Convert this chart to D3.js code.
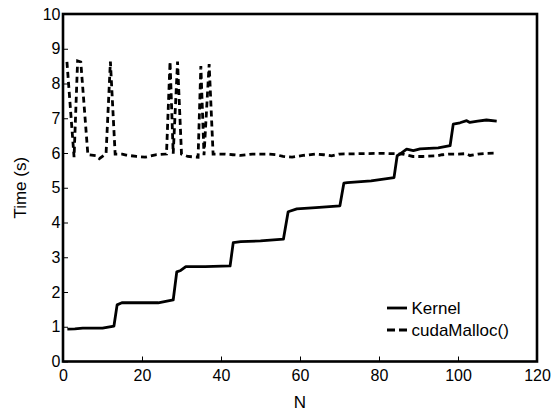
<!DOCTYPE html>
<html><head><meta charset="utf-8">
<script src="https://cdn.jsdelivr.net/npm/d3@7"></script>
<style>body{margin:0;background:#fff}svg{display:block}text{font-family:"Liberation Sans",Arial,sans-serif;fill:#000}</style>
</head><body><svg id="c" width="557" height="412"></svg>
<script>
const kernelN = [1.1, 3, 5, 10, 12.9, 13.7, 14.9, 20, 24.1, 26, 27.9, 28.8, 29.8, 31.1, 36, 42.3, 43.1, 45, 50, 55.8, 57.0, 59.2, 64, 70.1, 71.1, 72, 78, 83.8, 84.6, 85.3, 87.0, 88.7, 90.4, 95, 98.0, 98.8, 100.5, 102.2, 103, 105, 107.2, 109.8];
const kernelTime = [0.93, 0.94, 0.96, 0.96, 1.02, 1.63, 1.69, 1.69, 1.69, 1.73, 1.77, 2.58, 2.62, 2.73, 2.73, 2.75, 3.42, 3.45, 3.47, 3.52, 4.31, 4.39, 4.43, 4.48, 5.13, 5.15, 5.2, 5.29, 5.92, 5.97, 6.11, 6.07, 6.12, 6.15, 6.21, 6.83, 6.87, 6.93, 6.88, 6.92, 6.95, 6.92];
const mallocN = [1.0, 2.8, 3.7, 4.5, 6.3, 8.5, 9.2, 10.9, 12.0, 13.2, 15, 16, 18.6, 20.8, 23.7, 26.2, 27.1, 27.9, 29.0, 30.0, 31.6, 34.2, 34.9, 35.7, 37.0, 38.0, 41, 43, 45, 48, 52, 54, 55.7, 58, 60.8, 64, 66, 68, 70, 75, 80, 84, 86, 88.6, 91, 94.7, 96, 98, 100, 102, 103, 105, 107, 109.8];
const mallocTime = [8.62, 5.88, 8.65, 8.62, 5.95, 5.92, 5.84, 5.98, 8.63, 5.97, 5.97, 5.94, 5.9, 5.88, 5.95, 5.97, 8.63, 5.98, 8.63, 5.97, 5.9, 5.88, 8.5, 5.94, 8.56, 5.97, 5.97, 5.95, 5.93, 5.97, 5.97, 5.95, 5.9, 5.88, 5.93, 5.97, 5.95, 5.92, 5.97, 5.98, 5.99, 5.98, 5.97, 5.9, 5.9, 5.92, 5.95, 5.97, 5.97, 5.98, 5.93, 5.97, 5.99, 6.0];
const xTicks = [0, 20, 40, 60, 80, 100, 120];
const yTicks = [0, 1, 2, 3, 4, 5, 6, 7, 8, 9, 10];
const seriesNames = ["Kernel", "cudaMalloc()"];

const svg = d3.select("#c");
const m = {l: 63, r: 20, t: 14, b: 50.5};
const W = 557, H = 412;
const x = d3.scaleLinear().domain([0, 120]).range([m.l, W - m.r]);
const y = d3.scaleLinear().domain([0, 10]).range([H - m.b, m.t]);

const gx = svg.append("g").attr("transform", `translate(0,${H - m.b})`)
  .call(d3.axisBottom(x).tickValues(xTicks).tickFormat(d3.format("d")).tickSizeInner(-5).tickSizeOuter(0).tickPadding(8));
gx.select(".domain").remove();
gx.selectAll("line").attr("stroke-width", 1);
gx.selectAll("text").attr("font-size", 16);

const gy = svg.append("g").attr("transform", `translate(${m.l},0)`)
  .call(d3.axisLeft(y).tickValues(yTicks).tickFormat(d3.format("d")).tickSizeInner(-5).tickSizeOuter(0).tickPadding(2.5));
gy.select(".domain").remove();
gy.selectAll("line").attr("stroke-width", 1);
gy.selectAll("text").attr("font-size", 16);

const line = d3.line().x(d => x(d[0])).y(d => y(d[1]));
const kData = kernelN.map((n, i) => [n, kernelTime[i]]);
const mData = mallocN.map((n, i) => [n, mallocTime[i]]);

svg.append("path").datum(kData).attr("d", line).attr("fill", "none")
  .attr("stroke", "#000").attr("stroke-width", 2.8).attr("stroke-linejoin", "round");
svg.append("path").datum(mData).attr("d", line).attr("fill", "none")
  .attr("stroke", "#000").attr("stroke-width", 2.8).attr("stroke-dasharray", "6,4");

svg.append("rect").attr("x", m.l).attr("y", m.t).attr("width", W - m.r - m.l).attr("height", H - m.b - m.t)
  .attr("fill", "none").attr("stroke", "#000").attr("stroke-width", 2.6);

// legend
const lg = svg.append("g");
[0, 1].forEach(i => {
  const yy = 308 + i * 22;
  lg.append("line").attr("x1", 387).attr("x2", 407).attr("y1", yy).attr("y2", yy)
    .attr("stroke", "#000").attr("stroke-width", 2.8).attr("stroke-dasharray", i ? "8,4" : null);
  lg.append("text").attr("x", 411.5).attr("y", yy).attr("dy", "0.36em").attr("font-size", 17).text(seriesNames[i]);
});

svg.append("text").attr("x", (m.l + W - m.r) / 2).attr("y", 408).attr("text-anchor", "middle").attr("font-size", 17).text("N");
svg.append("text").attr("transform", `translate(26,${(m.t + H - m.b) / 2}) rotate(-90)`).attr("text-anchor", "middle").attr("font-size", 17).text("Time (s)");
</script></body></html>
